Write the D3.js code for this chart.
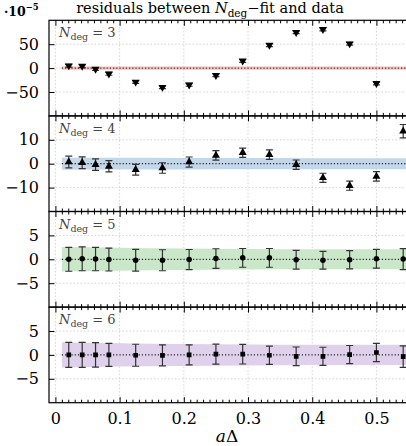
<!DOCTYPE html>
<html><head><meta charset="utf-8">
<script src="https://cdn.jsdelivr.net/npm/d3@7"></script>
<style>body{margin:0;background:#fff}svg{display:block}</style>
</head><body>
<script>
// ---- data (residuals in units of 1e-5) ----
const xValues = [0.0208, 0.0417, 0.0625, 0.0833, 0.125, 0.1667, 0.2083, 0.25, 0.2917, 0.3333, 0.375, 0.4167, 0.4583, 0.5, 0.5417];
const res3 = [5, 4, -2, -12, -29, -40, -35, -15, 15, 48, 75, 81, 51, -32, -150];
const err3 = [3, 3, 3, 3, 3, 3, 3, 3, 3, 3, 3, 3, 3, 3, 3];
const res4 = [0.7, 0.4, -0.4, -1.1, -2.5, -1.8, 0.7, 3.5, 4.6, 3.8, -0.4, -5.9, -9.2, -5.3, 13.6];
const err4 = [2.45, 2.45, 2.4, 2.35, 2.25, 2.2, 2.1, 2.0, 1.95, 1.95, 1.95, 1.9, 1.9, 1.95, 2.8];
const res5 = [0.0, 0.1, 0.05, -0.05, -0.2, -0.2, -0.05, 0.15, 0.3, 0.3, -0.1, -0.2, -0.1, 0.1, 0.05];
const err5 = [2.5, 2.5, 2.45, 2.4, 2.27, 2.2, 2.1, 2.06, 1.96, 1.96, 1.96, 1.85, 1.9, 1.96, 2.2];
const res6 = [0, 0, 0, 0, -0.07, -0.1, 0, 0.15, 0.15, -0.07, -0.3, -0.3, 0.07, 0.5, -0.35];
const err6 = [2.6, 2.6, 2.55, 2.4, 2.3, 2.2, 2.1, 2.1, 2.05, 1.9, 1.95, 1.9, 1.9, 1.9, 2.25];
const bandX = [0.01, 0.1, 0.2, 0.3, 0.4, 0.5, 0.56];
const band3 = [3.5, 3.5, 3.5, 3.5, 3.5, 3.5, 3.5];
const band4 = [2.5, 2.45, 2.4, 2.35, 2.3, 2.3, 2.3];
const band5 = [2.55, 2.4, 2.25, 2.15, 2.1, 2.1, 2.1];
const band6 = [2.65, 2.45, 2.3, 2.2, 2.1, 2.1, 2.1];
const degLabels = ["3", "4", "5", "6"];
const yDomains = [[-100, 100], [-20, 20], [-10, 10], [-10, 10]];
const yTicks = [[-50, 0, 50], [-10, 0, 10], [-5, 0, 5], [-5, 0, 5]];
const xTicks = [0, 0.1, 0.2, 0.3, 0.4, 0.5];
const bandColors = ["#f3bebe", "#c3d7e9", "#cae7ca", "#dfd1eb"];
const markers = ["triDown", "triUp", "circle", "square"];

const panels = [
  {res: res3, err: err3, band: band3},
  {res: res4, err: err4, band: band4},
  {res: res5, err: err5, band: band5},
  {res: res6, err: err6, band: band6}
];

const W = 406, H = 446;
const left = 49, top0 = 20.3, ph = 95.6;
const FONT = "'DejaVu Serif', 'Liberation Serif', serif";
const fmt = d => (d < 0 ? "\u2212" + Math.abs(d) : String(d));

const svg = d3.select("body").append("svg").attr("width", W).attr("height", H)
  .style("font-family", FONT);

const x = d3.scaleLinear().domain([-0.01, 0.56]).range([left, left + 0.57 * 642]);

// title
const title = svg.append("text").attr("x", 210).attr("y", 13).attr("text-anchor", "middle")
  .attr("font-size", 14.5).attr("fill", "#000");
title.append("tspan").text("residuals between ");
title.append("tspan").attr("font-style", "italic").text("N");
title.append("tspan").attr("font-size", 10.5).attr("dy", 4).text("deg");
title.append("tspan").attr("dy", -4).text("\u2212fit and data");

// scale factor
const sf = svg.append("text").attr("x", 4).attr("y", 16).attr("font-size", 12.5).attr("font-weight", "bold");
sf.append("tspan").text("\u00b710");
sf.append("tspan").attr("font-size", 8.5).attr("dy", -6).text("\u22125");

const defs = svg.append("defs");

panels.forEach((p, i) => {
  const t = top0 + i * ph, b = t + ph;
  const y = d3.scaleLinear().domain(yDomains[i]).range([b, t]);
  const g = svg.append("g");
  const cid = "clip" + i;
  defs.append("clipPath").attr("id", cid).append("rect")
    .attr("x", x.range()[0]).attr("y", t).attr("width", x.range()[1] - x.range()[0]).attr("height", ph);
  const c = g.append("g").attr("clip-path", `url(#${cid})`);

  // grid
  c.selectAll(".gx").data(xTicks).join("line")
    .attr("x1", d => x(d)).attr("x2", d => x(d)).attr("y1", t).attr("y2", b)
    .attr("stroke", "#c8c8c8").attr("stroke-width", 0.8).attr("stroke-dasharray", "1.5,2");
  c.selectAll(".gy").data(yTicks[i]).join("line")
    .attr("x1", x.range()[0]).attr("x2", x.range()[1]).attr("y1", d => y(d)).attr("y2", d => y(d))
    .attr("stroke", "#c8c8c8").attr("stroke-width", 0.8).attr("stroke-dasharray", "1.5,2");

  // band
  const area = d3.area().x((d, k) => x(bandX[k])).y0(d => y(-d)).y1(d => y(d)).curve(d3.curveMonotoneX);
  c.append("path").datum(p.band).attr("d", area).attr("fill", bandColors[i]);
  // zero line
  c.append("line").attr("x1", x(bandX[0])).attr("x2", x(bandX[bandX.length - 1]))
    .attr("y1", y(0)).attr("y2", y(0)).attr("stroke", i === 0 ? "#5a1a1a" : "#222")
    .attr("stroke-width", 1.2).attr("stroke-dasharray", "1.2,2");

  // error bars
  const eb = c.append("g").attr("stroke", "#333").attr("stroke-width", 1.2);
  xValues.forEach((xv, k) => {
    const cx = x(xv), y1 = y(p.res[k] + p.err[k]), y2 = y(p.res[k] - p.err[k]);
    eb.append("line").attr("x1", cx).attr("x2", cx).attr("y1", y1).attr("y2", y2);
    eb.append("line").attr("x1", cx - 3.5).attr("x2", cx + 3.5).attr("y1", y1).attr("y2", y1);
    eb.append("line").attr("x1", cx - 3.5).attr("x2", cx + 3.5).attr("y1", y2).attr("y2", y2);
  });

  // markers
  const m = markers[i];
  const sym = (m === "triDown" || m === "triUp") ? d3.symbolTriangle : m === "circle" ? d3.symbolCircle : d3.symbolSquare;
  const size = m === "circle" ? 24 : m === "square" ? 22 : 28;
  c.selectAll(".mk").data(xValues).join("path")
    .attr("d", d3.symbol().type(sym).size(size))
    .attr("transform", (d, k) => `translate(${x(d)},${y(p.res[k])})` + (m === "triDown" ? " rotate(180)" : ""))
    .attr("fill", "#000");

  // frame
  g.append("rect").attr("x", x.range()[0]).attr("y", t).attr("width", x.range()[1] - x.range()[0]).attr("height", ph)
    .attr("fill", "none").attr("stroke", "#000").attr("stroke-width", 1.2);

  // x ticks top & bottom (inward)
  const minor = d3.range(0, 56).map(v => v / 100).filter(v => Math.round(v * 100) % 10 !== 0);
  const axB = d3.axisBottom(x).tickValues(xTicks).tickSize(-5.5).tickPadding(10).tickFormat(i === 3 ? fmt : "");
  const axBm = d3.axisBottom(x).tickValues(minor).tickSize(-3).tickFormat("");
  const axT = d3.axisTop(x).tickValues(xTicks).tickSize(-5.5).tickFormat("");
  const axTm = d3.axisTop(x).tickValues(minor).tickSize(-3).tickFormat("");
  [[axB, b], [axBm, b], [axT, t], [axTm, t]].forEach(([ax, yy]) => {
    const a = g.append("g").attr("transform", `translate(0,${yy})`).call(ax);
    a.select(".domain").remove();
    a.selectAll("line").attr("stroke", "#000").attr("stroke-width", 1);
    a.selectAll("text").attr("font-size", 16).attr("font-family", FONT).attr("fill", "#000");
  });

  // y ticks left (labels) & right
  const axL = d3.axisLeft(y).tickValues(yTicks[i]).tickSize(-5.5).tickPadding(10).tickFormat(fmt);
  const axR = d3.axisRight(y).tickValues(yTicks[i]).tickSize(-5.5).tickFormat("");
  [[axL, x.range()[0]], [axR, x.range()[1]]].forEach(([ax, xx]) => {
    const a = g.append("g").attr("transform", `translate(${xx},0)`).call(ax);
    a.select(".domain").remove();
    a.selectAll("line").attr("stroke", "#000").attr("stroke-width", 1);
    a.selectAll("text").attr("font-size", 16).attr("font-family", FONT).attr("fill", "#000");
  });

  // panel label
  const lb = g.append("text").attr("x", 59).attr("y", t + 17).attr("font-size", 13).attr("fill", "#444");
  lb.append("tspan").attr("font-style", "italic").text("N");
  lb.append("tspan").attr("font-size", 9.5).attr("dy", 3).text("deg");
  lb.append("tspan").attr("dy", -3).text(" = " + degLabels[i]);
});

// x label
const xl = svg.append("text").attr("x", 227).attr("y", 442).attr("text-anchor", "middle").attr("font-size", 17);
xl.append("tspan").attr("font-style", "italic").text("a");
xl.append("tspan").text("\u0394");
</script>
</body></html>
